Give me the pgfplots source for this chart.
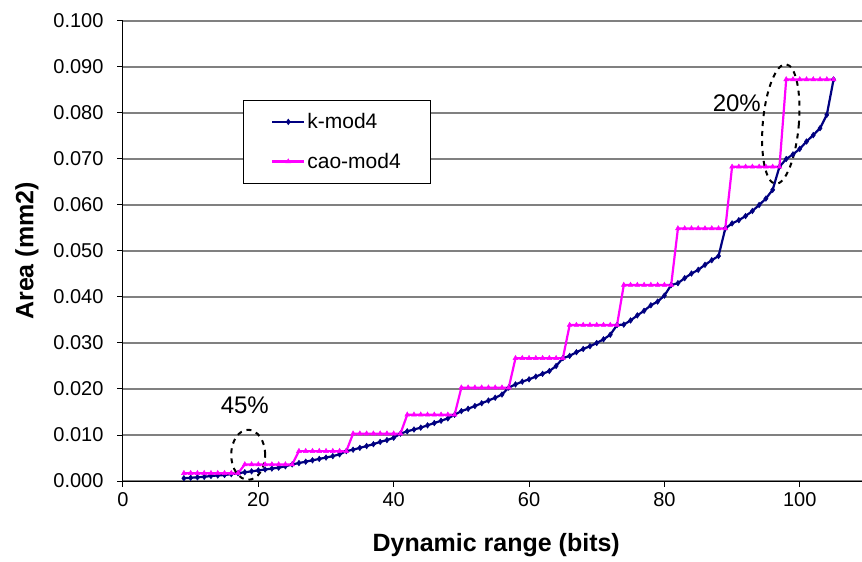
\documentclass[border=0pt]{standalone}
\usepackage{fontspec}
\setmainfont{Liberation Sans}
\usepackage{pgfplots}
\pgfplotsset{compat=1.18}
\definecolor{kblue}{RGB}{0,0,128}
\definecolor{caopink}{RGB}{255,0,255}
\begin{document}
\begin{tikzpicture}
\begin{axis}[
  name=ax,
  scale only axis,
  width=739pt, height=460pt,
  xmin=0, xmax=109.2, ymin=0, ymax=0.1,
  axis lines*=left,
  axis line style={line width=1pt, black},
  xtick={0,20,...,100},
  ytick={0,0.01,...,0.1},
  tick align=outside,
  major tick length=6pt,
  tick style={line width=1pt, black},
  ymajorgrids,
  grid style={line width=1.3pt, gray},
  /pgf/number format/assume math mode=true,
  yticklabel style={xshift=-10pt, /pgf/number format/.cd, fixed, fixed zerofill, precision=3},
  xticklabel style={yshift=-2pt},
  scaled y ticks=false,
  ticklabel style={font=\fontsize{20}{24}\selectfont},
  xlabel={\textbf{Dynamic range (bits)}},
  ylabel={\textbf{Area (mm2)}},
  label style={font=\fontsize{25}{29}\selectfont},
  xlabel style={at={(rel axis cs:0.505,0)}, anchor=center, yshift=-64pt},
  ylabel style={at={(rel axis cs:0,0.5)}, anchor=center, yshift=96pt},
  legend style={at={(axis cs:17.7,0.0828)}, anchor=north west, draw=black, line width=0.8pt,
    font=\fontsize{21}{25}\selectfont, inner xsep=28pt, inner ysep=11pt, row sep=19pt,
    cells={anchor=west}},
  legend image code/.code={\draw[mark repeat=2,mark phase=2] plot coordinates {(0pt,0pt) (16pt,0pt) (32pt,0pt)};},
  clip=false,
]
\addplot[kblue, line width=2.2pt, mark=diamond*, mark size=2.8pt, mark options={solid, line width=0.5pt}] coordinates {
 (9,0.0006) (10,0.0007) (11,0.0008) (12,0.0009) (13,0.0011) (14,0.0012) (15,0.0013) (16,0.0015) (17,0.0017)
 (18,0.0019) (19,0.0021) (20,0.0023) (21,0.0025) (22,0.0027) (23,0.0029) (24,0.0032) (25,0.0036)
 (26,0.0039) (27,0.0042) (28,0.0045) (29,0.0048) (30,0.0051) (31,0.0054) (32,0.0058) (33,0.0065)
 (34,0.0068) (35,0.0072) (36,0.0076) (37,0.0080) (38,0.0085) (39,0.0089) (40,0.0094) (41,0.0103)
 (42,0.0108) (43,0.0112) (44,0.0116) (45,0.0121) (46,0.0126) (47,0.0131) (48,0.0136) (49,0.0144)
 (50,0.0152) (51,0.0157) (52,0.0163) (53,0.0169) (54,0.0175) (55,0.0181) (56,0.0188) (57,0.0203)
 (58,0.0210) (59,0.0216) (60,0.0221) (61,0.0227) (62,0.0233) (63,0.0239) (64,0.0250) (65,0.0267)
 (66,0.0272) (67,0.0280) (68,0.0287) (69,0.0293) (70,0.0300) (71,0.0308) (72,0.0318) (73,0.0339)
 (74,0.0340) (75,0.0349) (76,0.0360) (77,0.0370) (78,0.0382) (79,0.0390) (80,0.0403) (81,0.0426)
 (82,0.0430) (83,0.0441) (84,0.0451) (85,0.0459) (86,0.0470) (87,0.0480) (88,0.0489) (89,0.0549)
 (90,0.0560) (91,0.0567) (92,0.0576) (93,0.0587) (94,0.0600) (95,0.0614) (96,0.0633) (97,0.0683)
 (98,0.0700) (99,0.0710) (100,0.0722) (101,0.0738) (102,0.0752) (103,0.0767) (104,0.0796) (105,0.0873)
};
\addlegendentry{k-mod4}
\addplot[caopink, line width=2.2pt, mark=triangle*, mark size=2.8pt, mark options={solid, line width=0.5pt}] coordinates {
 (9,0.0017) (10,0.0017) (11,0.0017) (12,0.0017) (13,0.0017) (14,0.0017) (15,0.0017) (16,0.0017) (17,0.0017)
 (18,0.0036) (19,0.0036) (20,0.0036) (21,0.0036) (22,0.0036) (23,0.0036) (24,0.0036) (25,0.0036)
 (26,0.0065) (27,0.0065) (28,0.0065) (29,0.0065) (30,0.0065) (31,0.0065) (32,0.0065) (33,0.0065)
 (34,0.0103) (35,0.0103) (36,0.0103) (37,0.0103) (38,0.0103) (39,0.0103) (40,0.0103) (41,0.0103)
 (42,0.0144) (43,0.0144) (44,0.0144) (45,0.0144) (46,0.0144) (47,0.0144) (48,0.0144) (49,0.0144)
 (50,0.0203) (51,0.0203) (52,0.0203) (53,0.0203) (54,0.0203) (55,0.0203) (56,0.0203) (57,0.0203)
 (58,0.0267) (59,0.0267) (60,0.0267) (61,0.0267) (62,0.0267) (63,0.0267) (64,0.0267) (65,0.0267)
 (66,0.0339) (67,0.0339) (68,0.0339) (69,0.0339) (70,0.0339) (71,0.0339) (72,0.0339) (73,0.0339)
 (74,0.0426) (75,0.0426) (76,0.0426) (77,0.0426) (78,0.0426) (79,0.0426) (80,0.0426) (81,0.0426)
 (82,0.0549) (83,0.0549) (84,0.0549) (85,0.0549) (86,0.0549) (87,0.0549) (88,0.0549) (89,0.0549)
 (90,0.0683) (91,0.0683) (92,0.0683) (93,0.0683) (94,0.0683) (95,0.0683) (96,0.0683) (97,0.0683)
 (98,0.0873) (99,0.0873) (100,0.0873) (101,0.0873) (102,0.0873) (103,0.0873) (104,0.0873) (105,0.0873)
};
\addlegendentry{cao-mod4}
% annotations: savings at the low and high ends
\draw[black, line width=2pt, dash pattern=on 5pt off 5pt] (axis cs:18.5,0.0057) ellipse [x radius=17pt, y radius=25pt];
\node[font=\fontsize{24}{28}\selectfont] at (axis cs:18,0.0165) {45\%};
\draw[black, line width=2pt, dash pattern=on 5pt off 5pt, rotate around={-5:(axis cs:97.2,0.0776)}] (axis cs:97.2,0.0776) ellipse [x radius=18pt, y radius=60pt];
\node[font=\fontsize{24}{28}\selectfont] at (axis cs:90.7,0.0822) {20\%};
\end{axis}
\pgfresetboundingbox
\path ([shift={(-123pt,-81pt)}]ax.south west) rectangle ([shift={(0pt,21pt)}]ax.north east);
\end{tikzpicture}
\end{document}
